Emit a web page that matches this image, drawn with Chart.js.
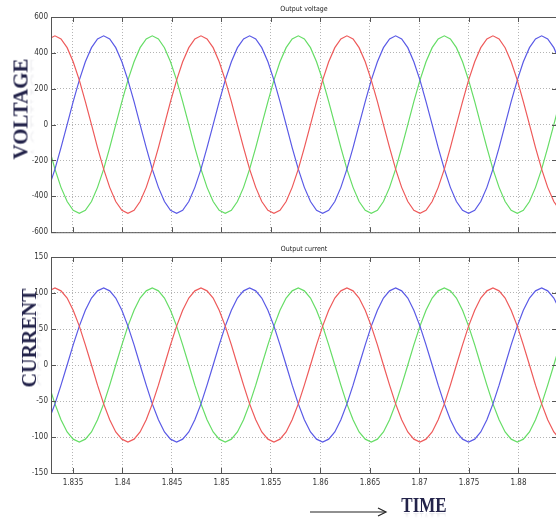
<!DOCTYPE html>
<html>
<head>
<meta charset="utf-8">
<script src="https://cdn.jsdelivr.net/npm/chart.js@4.4.1/dist/chart.umd.min.js"></script>
<style>
  html, body { margin: 0; padding: 0; background: #fff; overflow: hidden; width: 556px; height: 519px; }
  canvas { position: absolute; left: 0; }
  .lbl {
    position: absolute; font-family: "Liberation Serif", "Times New Roman", serif; font-weight: bold;
    color: #23234a; white-space: nowrap; line-height: 1;
    -webkit-box-reflect: below -5px linear-gradient(transparent 60%, rgba(0,0,0,0.16));
  }
</style>
</head>
<body>
<canvas id="voltChart" width="562" height="240" style="top:0"></canvas>
<canvas id="currChart" width="562" height="279" style="top:240px"></canvas>

<div class="lbl" id="lblV" style="font-size:21px; left:21px; top:109px; transform: translate(-50%,-50%) rotate(-90deg);">VOLTAGE</div>
<div class="lbl" id="lblC" style="font-size:20px; left:29px; top:338px; transform: translate(-50%,-50%) rotate(-90deg);">CURRENT</div>
<div class="lbl" id="lblT" style="font-size:20px; left:424px; top:505px; transform: translate(-50%,-50%) scaleX(0.85);">TIME</div>
<svg style="position:absolute; left:0; top:0" width="556" height="519">
  <line x1="310" y1="512" x2="385" y2="512" stroke="#222" stroke-width="1.2"/>
  <polyline points="378,508 386,512 378,516" fill="none" stroke="#222" stroke-width="1.2"/>
</svg>

<script>
// time axis (s)
var time = [1.83257, 1.83318, 1.83379, 1.83441, 1.83502, 1.83564, 1.83625, 1.83687, 1.83748, 1.83810, 1.83871, 1.83932,
  1.83994, 1.84055, 1.84117, 1.84178, 1.84240, 1.84301, 1.84363, 1.84424, 1.84485, 1.84547, 1.84608, 1.84670,
  1.84731, 1.84793, 1.84854, 1.84916, 1.84977, 1.85038, 1.85100, 1.85161, 1.85223, 1.85284, 1.85346, 1.85407,
  1.85469, 1.85530, 1.85591, 1.85653, 1.85714, 1.85776, 1.85837, 1.85899, 1.85960, 1.86022, 1.86083, 1.86145,
  1.86206, 1.86267, 1.86329, 1.86390, 1.86452, 1.86513, 1.86575, 1.86636, 1.86698, 1.86759, 1.86820, 1.86882,
  1.86943, 1.87005, 1.87066, 1.87128, 1.87189, 1.87251, 1.87312, 1.87373, 1.87435, 1.87496, 1.87558, 1.87619,
  1.87681, 1.87742, 1.87804, 1.87865, 1.87926, 1.87988, 1.88049, 1.88111, 1.88172, 1.88234, 1.88295, 1.88357, 1.88418];

var voltRed = [478,
  495,478,429,350,248,128,0,-128,-248,-350,-429,-478,-495,-478,-429,-350,-248,-128,0,128,248,350,429,478,
  495,478,429,350,248,128,0,-128,-248,-350,-429,-478,-495,-478,-429,-350,-248,-128,0,128,248,350,429,478,
  495,478,429,350,248,128,0,-128,-248,-350,-429,-478,-495,-478,-429,-350,-248,-128,0,128,248,350,429,478,
  495,478,429,350,248,128,0,-128,-248,-350,-429,-478];
var voltBlue = [-350,-248,-128,0,128,248,350,429,478,
  495,478,429,350,248,128,0,-128,-248,-350,-429,-478,-495,-478,-429,-350,-248,-128,0,128,248,350,429,478,
  495,478,429,350,248,128,0,-128,-248,-350,-429,-478,-495,-478,-429,-350,-248,-128,0,128,248,350,429,478,
  495,478,429,350,248,128,0,-128,-248,-350,-429,-478,-495,-478,-429,-350,-248,-128,0,128,248,350,429,478,
  495,478,429,350];
var voltGreen = [-128,-248,-350,-429,-478,-495,-478,-429,-350,-248,-128,0,128,248,350,429,478,
  495,478,429,350,248,128,0,-128,-248,-350,-429,-478,-495,-478,-429,-350,-248,-128,0,128,248,350,429,478,
  495,478,429,350,248,128,0,-128,-248,-350,-429,-478,-495,-478,-429,-350,-248,-128,0,128,248,350,429,478,
  495,478,429,350,248,128,0,-128,-248,-350,-429,-478,-495,-478,-429,-350,-248,-128,0,128];

var currRed = [103,
  107,103,93,76,54,28,0,-28,-54,-76,-93,-103,-107,-103,-93,-76,-54,-28,0,28,54,76,93,103,
  107,103,93,76,54,28,0,-28,-54,-76,-93,-103,-107,-103,-93,-76,-54,-28,0,28,54,76,93,103,
  107,103,93,76,54,28,0,-28,-54,-76,-93,-103,-107,-103,-93,-76,-54,-28,0,28,54,76,93,103,
  107,103,93,76,54,28,0,-28,-54,-76,-93,-103];
var currBlue = [-76,-54,-28,0,28,54,76,93,103,
  107,103,93,76,54,28,0,-28,-54,-76,-93,-103,-107,-103,-93,-76,-54,-28,0,28,54,76,93,103,
  107,103,93,76,54,28,0,-28,-54,-76,-93,-103,-107,-103,-93,-76,-54,-28,0,28,54,76,93,103,
  107,103,93,76,54,28,0,-28,-54,-76,-93,-103,-107,-103,-93,-76,-54,-28,0,28,54,76,93,103,
  107,103,93,76];
var currGreen = [-28,-54,-76,-93,-103,-107,-103,-93,-76,-54,-28,0,28,54,76,93,103,
  107,103,93,76,54,28,0,-28,-54,-76,-93,-103,-107,-103,-93,-76,-54,-28,0,28,54,76,93,103,
  107,103,93,76,54,28,0,-28,-54,-76,-93,-103,-107,-103,-93,-76,-54,-28,0,28,54,76,93,103,
  107,103,93,76,54,28,0,-28,-54,-76,-93,-103,-107,-103,-93,-76,-54,-28,0,28];

var timeTicks = [1.835, 1.84, 1.845, 1.85, 1.855, 1.86, 1.865, 1.87, 1.875, 1.88];
var voltTicks = [-600, -400, -200, 0, 200, 400, 600];
var currTicks = [-150, -100, -50, 0, 50, 100, 150];

var tickFont = { family: "'Liberation Sans Narrow', 'DejaVu Sans Condensed', 'Liberation Sans', sans-serif", size: 8 };

// box round the plot, inward tick marks (matlab style) and small title
var framePlugin = {
  id: 'frame',
  afterDraw: function(chart, args, opts) {
    var ctx = chart.ctx, a = chart.chartArea, sx = chart.scales.x, sy = chart.scales.y;
    ctx.save();
    ctx.strokeStyle = '#555';
    ctx.lineWidth = 1;
    ctx.beginPath();
    sx.ticks.forEach(function(t) {
      var x = Math.round(sx.getPixelForValue(t.value)) + 0.5;
      ctx.moveTo(x, a.bottom); ctx.lineTo(x, a.bottom - 5);
      ctx.moveTo(x, a.top); ctx.lineTo(x, a.top + 5);
    });
    sy.ticks.forEach(function(t) {
      var y = Math.round(sy.getPixelForValue(t.value)) + 0.5;
      ctx.moveTo(a.left, y); ctx.lineTo(a.left + 5, y);
      ctx.moveTo(a.right, y); ctx.lineTo(a.right - 5, y);
    });
    ctx.stroke();
    ctx.strokeRect(a.left + 0.5, a.top + 0.5, a.right - a.left - 1, a.bottom - a.top);
    ctx.fillStyle = '#222';
    ctx.font = "7px 'Liberation Sans Narrow', 'DejaVu Sans Condensed', 'Liberation Sans', sans-serif";
    ctx.textAlign = 'center';
    ctx.textBaseline = 'middle';
    ctx.fillText(opts.text, (a.left + a.right) / 2, a.top - 8);
    ctx.restore();
  }
};

function makeChart(id, title, red, blue, green, yTicks, showX, xHeight) {
  var ctx = document.getElementById(id).getContext('2d');
  return new Chart(ctx, {
    type: 'line',
    data: {
      labels: time,
      datasets: [
        { data: red, borderColor: '#ee5a5a', borderWidth: 1.2, pointRadius: 0, tension: 0 },
        { data: blue, borderColor: '#5a5ae6', borderWidth: 1.2, pointRadius: 0, tension: 0 },
        { data: green, borderColor: '#66dd66', borderWidth: 1.2, pointRadius: 0, tension: 0 }
      ]
    },
    options: {
      responsive: false,
      animation: false,
      layout: { padding: { left: 0, right: 5, top: 17, bottom: 0 } },
      plugins: {
        legend: { display: false },
        tooltip: { enabled: false },
        frame: { text: title }
      },
      scales: {
        x: {
          type: 'linear',
          min: 1.83278,
          max: 1.88389,
          afterBuildTicks: function(scale) {
            scale.ticks = timeTicks.map(function(v) { return { value: v }; });
          },
          afterFit: function(scale) { scale.height = xHeight; },
          grid: { color: '#b4b4b4', lineWidth: 1, drawTicks: false },
          border: { display: false, dash: [1, 2] },
          ticks: {
            display: showX,
            padding: 5,
            color: '#333',
            font: tickFont,
            maxRotation: 0,
            callback: function(v) { return String(parseFloat(v.toFixed(3))); }
          }
        },
        y: {
          min: yTicks[0],
          max: yTicks[yTicks.length - 1],
          afterBuildTicks: function(scale) {
            scale.ticks = yTicks.map(function(v) { return { value: v }; });
          },
          afterFit: function(scale) { scale.width = 51; },
          grid: { color: '#b4b4b4', lineWidth: 1, drawTicks: false },
          border: { display: false, dash: [1, 2] },
          ticks: { padding: 3, color: '#333', font: tickFont }
        }
      }
    },
    plugins: [framePlugin]
  });
}

makeChart('voltChart', 'Output voltage', voltRed, voltBlue, voltGreen, voltTicks, false, 7);
makeChart('currChart', 'Output current', currRed, currBlue, currGreen, currTicks, true, 46);
</script>
</body>
</html>
